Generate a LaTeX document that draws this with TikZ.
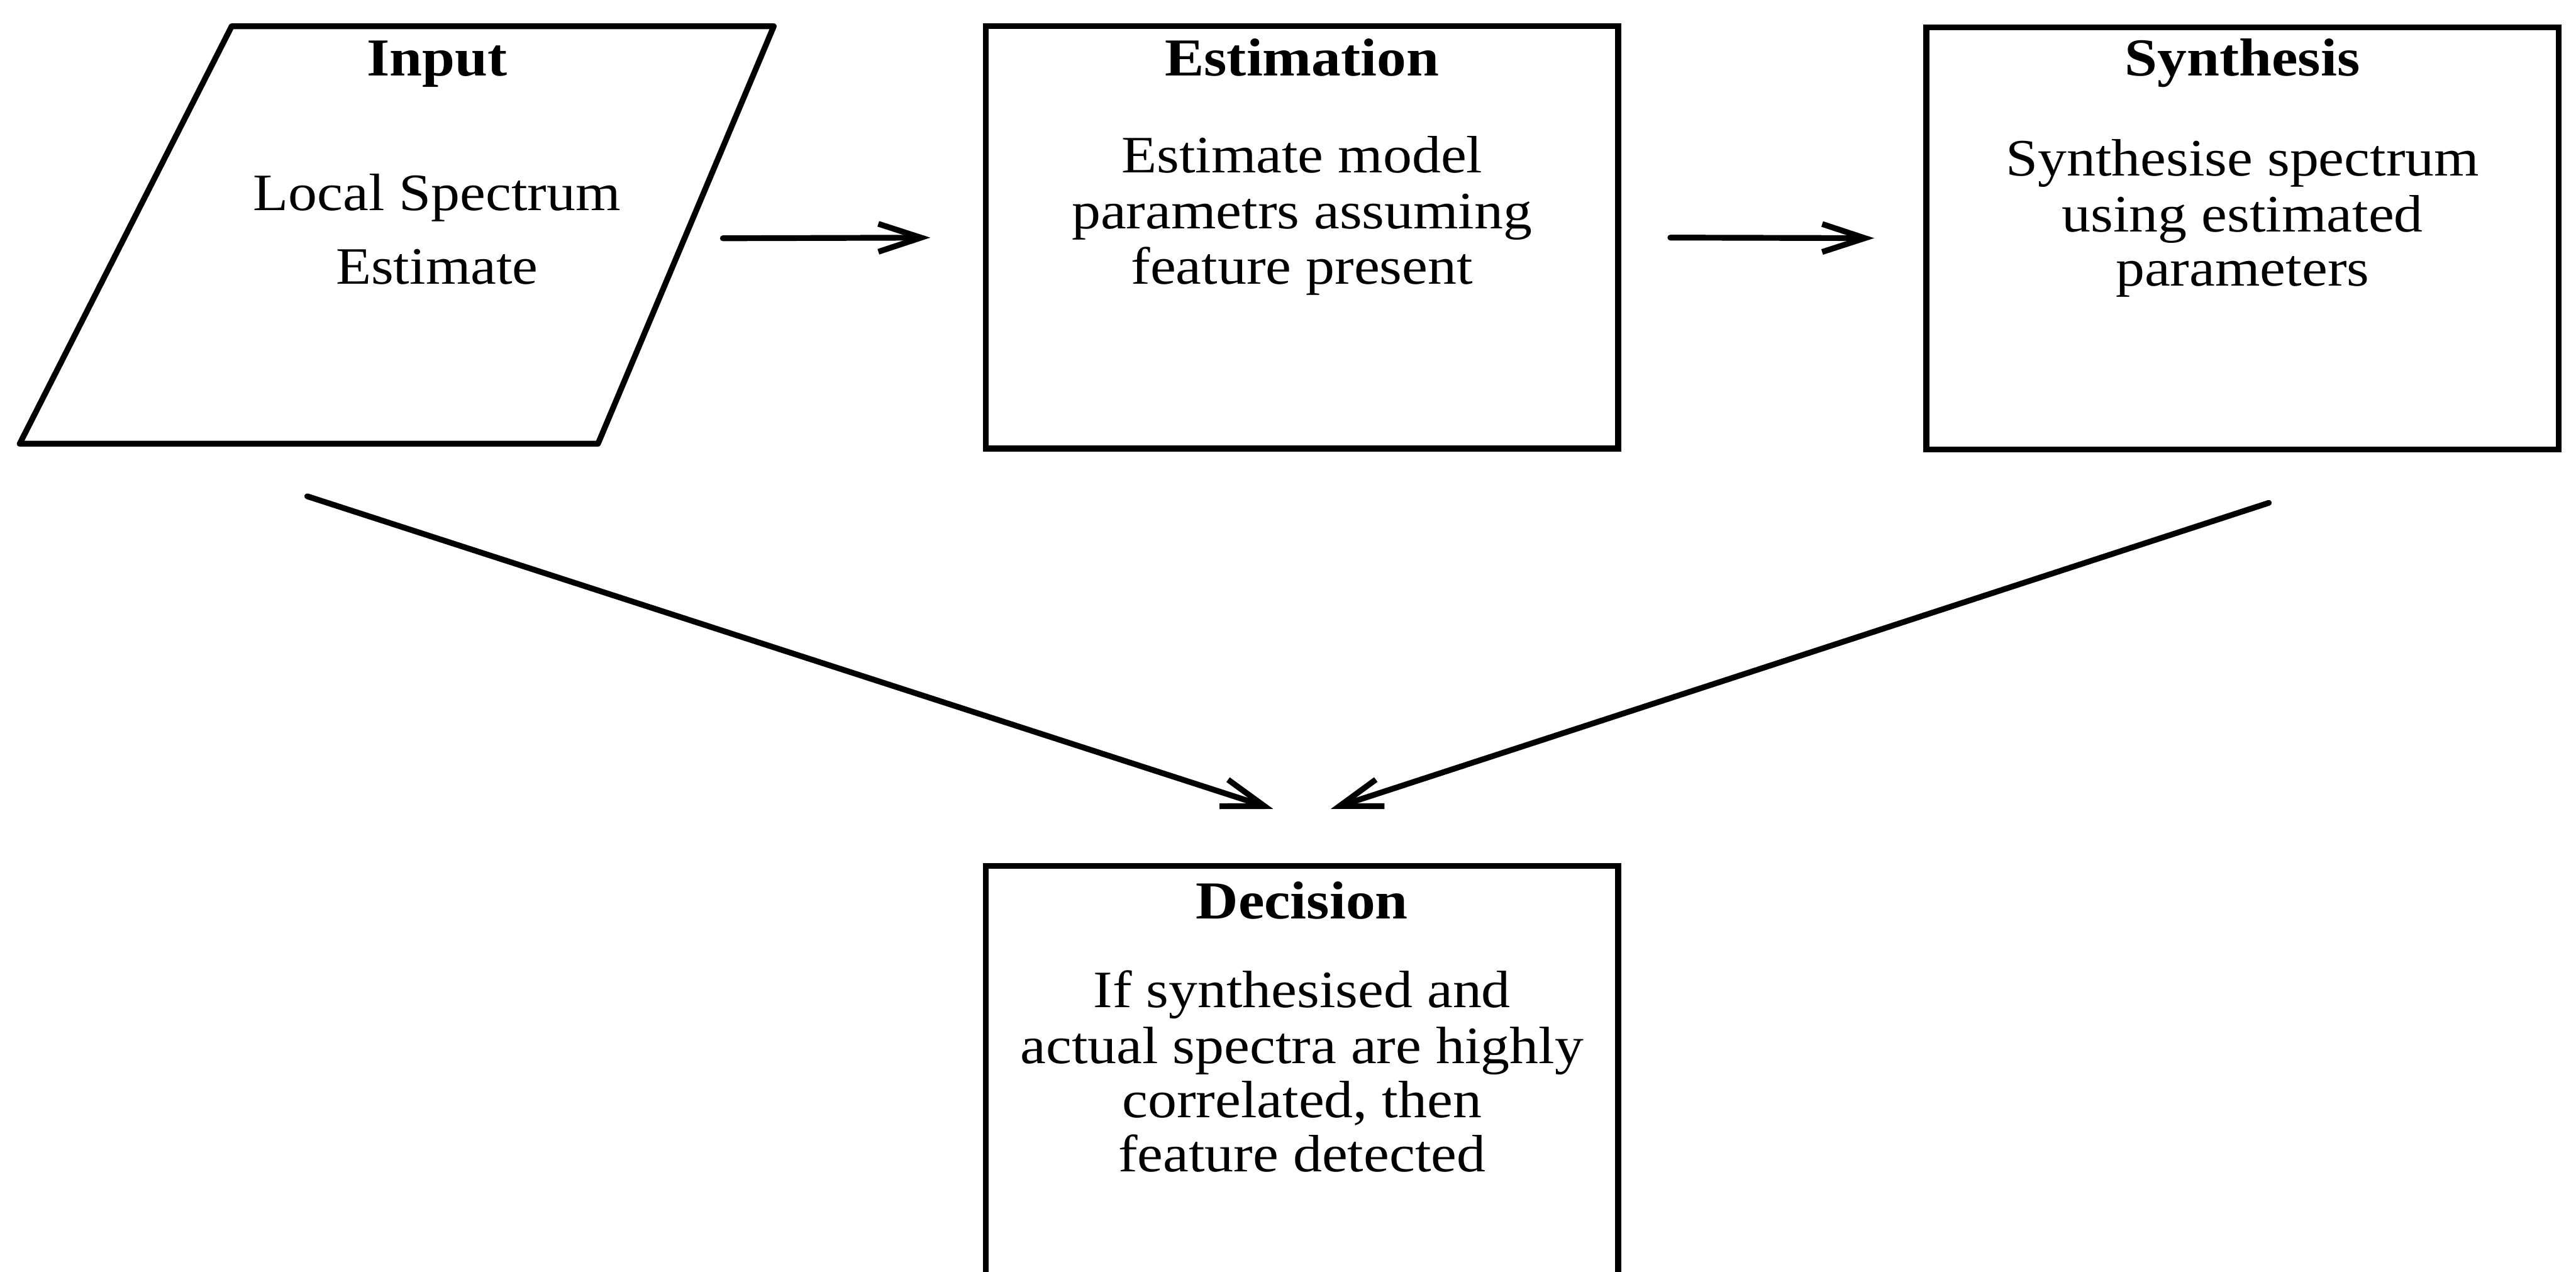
\documentclass[tikz,border=0pt]{standalone}
\usepackage{fontspec}
\setmainfont{Liberation Serif}[FakeStretch=1.1]
\usetikzlibrary{arrows.meta,calc}
\begin{document}
\begin{tikzpicture}[
  x=0.02cm, y=-0.02cm,
  line width=2pt,
  box/.style={draw, rectangle, inner sep=0pt, minimum width=7.7cm, minimum height=5.14cm},
  ttl/.style={anchor=base, inner sep=0pt, font=\fontsize{18.5}{23}\selectfont\bfseries},
  txt/.style={anchor=base, inner sep=0pt, font=\fontsize{18.2}{23}\selectfont},
  arr/.style={-{Straight Barb[length=0.52cm, width=0.34cm]}, line cap=round}
]
\clip (0,0) rectangle (1568,774);
\useasboundingbox (0,0) rectangle (1568,774);

% input parallelogram
\coordinate (inTL) at (141,16);
\coordinate (inTR) at (471,16);
\coordinate (inBR) at (364,270);
\coordinate (inBL) at (12,270);
\draw[line join=round] (inTL) -- (inTR) -- (inBR) -- (inBL) -- cycle;
\node[ttl] (inT) at (266,46) {Input};
\node[txt] (in1) at (266,128) {Local Spectrum};
\node[txt] (in2) at (266,173) {Estimate};

% process boxes
\node[box] (est) at (792.5,144.5) {};
\node[ttl] (estT) at (792.5,46) {Estimation};
\node[txt] (est1) at (792.5,105) {Estimate model};
\node[txt] (est2) at (792.5,139) {parametrs assuming};
\node[txt] (est3) at (792.5,173) {feature present};

\node[box] (syn) at (1365,145) {};
\node[ttl] (synT) at (1365,46) {Synthesis};
\node[txt] (syn1) at (1365,107) {Synthesise spectrum};
\node[txt] (syn2) at (1365,141) {using estimated};
\node[txt] (syn3) at (1365,174) {parameters};

\node[box, minimum height=6.4cm] (dec) at (792.5,687) {};
\node[ttl] (decT) at (792.5,559) {Decision};
\node[txt] (dec1) at (792.5,613) {If synthesised and};
\node[txt] (dec2) at (792.5,647) {actual spectra are highly};
\node[txt] (dec3) at (792.5,680) {correlated, then};
\node[txt] (dec4) at (792.5,713) {feature detected};

% connector ends
\coordinate (inOut) at (440,145);
\coordinate (inDown) at (187,302);
\coordinate (synDown) at (1381,306);
\coordinate (decL) at ($(dec.north)+(-17.5,-33)$);
\coordinate (decR) at ($(dec.north)+(17.5,-33)$);

% connectors
\draw[arr, shorten >=0.64cm] (inOut) -- (est.west);
\draw[arr, shorten <=0.6cm, shorten >=0.6cm] (est.east) -- (syn.west);
\draw[arr] (inDown) -- (decL);
\draw[arr] (synDown) -- (decR);
\end{tikzpicture}
\end{document}
